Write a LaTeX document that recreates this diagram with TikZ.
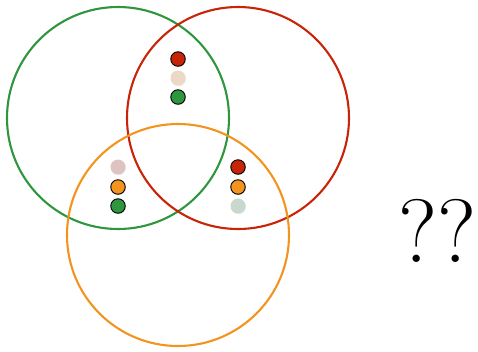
\documentclass[tikz,border=0pt]{standalone}
\usetikzlibrary{shadows}
\definecolor{cgreen}{RGB}{46,150,62}
\definecolor{cred}{RGB}{200,36,8}
\definecolor{corange}{RGB}{242,148,30}
\definecolor{fgreen}{RGB}{200,216,204}
\definecolor{fred}{RGB}{222,196,192}
\definecolor{forange}{RGB}{236,216,196}
\begin{document}
\begin{tikzpicture}[x=1pt, y=-1pt,
  set/.style={draw, circle, line width=2.1pt, minimum size=222pt, inner sep=0pt},
  dot/.style={draw=black, circle, line width=0.9pt, minimum size=14.5pt, inner sep=0pt, drop shadow={shadow xshift=0.6pt, shadow yshift=-0.8pt, opacity=0.3}},
  ghost/.style={circle, minimum size=15pt, inner sep=0pt, drop shadow={shadow xshift=0.6pt, shadow yshift=-0.8pt, opacity=0.15}}]
\useasboundingbox (0,0) rectangle (478,351);
\node[set, draw=cgreen] (A) at (118,118) {};
\node[set, draw=cred] (B) at (238,118) {};
\node[set, draw=corange] (C) at (178,235) {};
\node[dot, fill=cred] (ab1) at (178,59) {};
\node[ghost, fill=forange] (ab2) at (178,78) {};
\node[dot, fill=cgreen] (ab3) at (178,97) {};
\node[ghost, fill=fred] (ac1) at (118,167) {};
\node[dot, fill=corange] (ac2) at (118,187) {};
\node[dot, fill=cgreen] (ac3) at (118,206) {};
\node[dot, fill=cred] (bc1) at (238,167) {};
\node[dot, fill=corange] (bc2) at (238,187) {};
\node[ghost, fill=fgreen] (bc3) at (238,206) {};
\node[font=\fontsize{90}{90}\selectfont, inner sep=0pt] (q) at (437,231) {??};
\end{tikzpicture}
\end{document}
